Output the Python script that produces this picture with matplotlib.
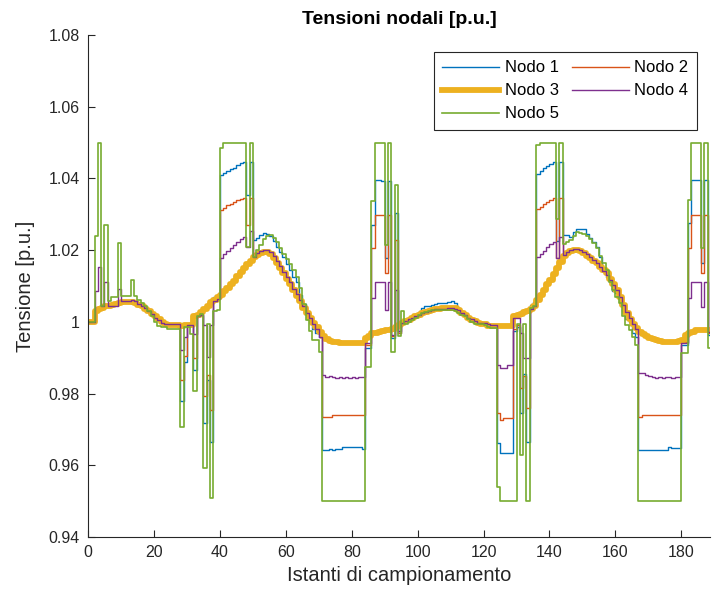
import numpy as np
import matplotlib
matplotlib.use("Agg")
import matplotlib.pyplot as plt
from matplotlib.ticker import FuncFormatter

plt.rcParams['font.family'] = ['Liberation Sans', 'DejaVu Sans']

# sampling instants
campioni = np.arange(190)

nodo1 = [
    1.0000, 1.0000, 1.0030, 1.0035, 1.0040, 1.0043, 1.0045, 1.0048, 1.0050, 1.0052,
    1.0054, 1.0055, 1.0055, 1.0054, 1.0052, 1.0048, 1.0043, 1.0037, 1.0030, 1.0022,
    1.0015, 1.0008, 1.0000, 0.9995, 0.9992, 0.9992, 0.9990, 0.9990, 0.9780, 0.9888,
    0.9992, 0.9992, 0.9866, 1.0018, 1.0020, 0.9717, 0.9838, 0.9666, 1.0068, 1.0070,
    1.0410, 1.0415, 1.0420, 1.0425, 1.0430, 1.0437, 1.0443, 1.0445, 1.0355, 1.0445,
    1.0229, 1.0235, 1.0242, 1.0247, 1.0245, 1.0240, 1.0225, 1.0210, 1.0195, 1.0180,
    1.0160, 1.0145, 1.0125, 1.0110, 1.0075, 1.0050, 1.0025, 1.0005, 0.9980, 0.9970,
    0.9959, 0.9643, 0.9643, 0.9645, 0.9643, 0.9645, 0.9645, 0.9650, 0.9650, 0.9652,
    0.9650, 0.9650, 0.9652, 0.9645, 0.9927, 0.9927, 1.0270, 1.0396, 1.0396, 1.0393,
    1.0178, 1.0393, 0.9955, 1.0303, 0.9970, 1.0000, 1.0005, 1.0010, 1.0013, 1.0018,
    1.0028, 1.0038, 1.0043, 1.0045, 1.0048, 1.0050, 1.0052, 1.0052, 1.0053, 1.0055,
    1.0057, 1.0053, 1.0040, 1.0028, 1.0020, 1.0012, 1.0006, 1.0002, 0.9998, 0.9995,
    0.9993, 0.9990, 0.9990, 0.9990, 0.9662, 0.9634, 0.9634, 0.9634, 0.9634, 0.9975,
    0.9985, 0.9745, 0.9855, 0.9666, 1.0048, 1.0055, 1.0412, 1.0420, 1.0428, 1.0435,
    1.0440, 1.0447, 1.0225, 1.0447, 1.0243, 1.0243, 1.0238, 1.0250, 1.0259, 1.0260,
    1.0259, 1.0245, 1.0235, 1.0222, 1.0210, 1.0180, 1.0145, 1.0125, 1.0110, 1.0085,
    1.0080, 1.0065, 1.0030, 1.0008, 1.0000, 0.9970, 0.9958, 0.9643, 0.9643, 0.9643,
    0.9643, 0.9643, 0.9643, 0.9643, 0.9643, 0.9643, 0.9652, 0.9648, 0.9648, 0.9648,
    0.9936, 0.9936, 1.0275, 1.0396, 1.0396, 1.0396, 1.0164, 1.0396, 0.9964, 0.9964,
]

nodo2 = [
    1.0000, 1.0000, 1.0030, 1.0035, 1.0040, 1.0043, 1.0045, 1.0048, 1.0050, 1.0052,
    1.0054, 1.0055, 1.0055, 1.0054, 1.0052, 1.0048, 1.0043, 1.0037, 1.0030, 1.0022,
    1.0015, 1.0008, 1.0000, 0.9995, 0.9992, 0.9992, 0.9990, 0.9990, 0.9838, 0.9905,
    0.9990, 0.9990, 0.9900, 1.0018, 1.0025, 0.9792, 0.9852, 0.9755, 1.0060, 1.0065,
    1.0312, 1.0318, 1.0325, 1.0330, 1.0335, 1.0340, 1.0343, 1.0345, 1.0270, 1.0345,
    1.0180, 1.0187, 1.0193, 1.0196, 1.0195, 1.0188, 1.0178, 1.0165, 1.0150, 1.0135,
    1.0120, 1.0105, 1.0090, 1.0073, 1.0057, 1.0040, 1.0025, 1.0010, 0.9997, 0.9985,
    0.9972, 0.9734, 0.9734, 0.9734, 0.9740, 0.9740, 0.9740, 0.9740, 0.9740, 0.9740,
    0.9740, 0.9740, 0.9740, 0.9740, 0.9936, 0.9936, 1.0206, 1.0298, 1.0298, 1.0298,
    1.0136, 1.0298, 0.9960, 1.0229, 0.9970, 0.9997, 1.0002, 1.0006, 1.0010, 1.0015,
    1.0020, 1.0025, 1.0028, 1.0030, 1.0033, 1.0035, 1.0037, 1.0038, 1.0038, 1.0038,
    1.0038, 1.0038, 1.0033, 1.0025, 1.0018, 1.0012, 1.0006, 1.0002, 0.9998, 0.9995,
    0.9993, 0.9989, 0.9989, 0.9989, 0.9745, 0.9727, 0.9732, 0.9732, 0.9732, 0.9980,
    0.9990, 0.9815, 0.9850, 0.9759, 1.0035, 1.0045, 1.0315, 1.0320, 1.0328, 1.0335,
    1.0340, 1.0345, 1.0178, 1.0345, 1.0185, 1.0192, 1.0197, 1.0200, 1.0200, 1.0198,
    1.0192, 1.0185, 1.0177, 1.0170, 1.0163, 1.0153, 1.0145, 1.0135, 1.0120, 1.0105,
    1.0090, 1.0068, 1.0046, 1.0025, 1.0007, 0.9993, 0.9982, 0.9734, 0.9739, 0.9739,
    0.9739, 0.9739, 0.9739, 0.9739, 0.9739, 0.9739, 0.9739, 0.9739, 0.9739, 0.9739,
    0.9945, 0.9945, 1.0206, 1.0298, 1.0298, 1.0298, 1.0136, 1.0298, 0.9970, 0.9970,
]

nodo3 = [
    1.0000, 1.0000, 1.0030, 1.0035, 1.0040, 1.0043, 1.0045, 1.0048, 1.0050, 1.0052,
    1.0054, 1.0055, 1.0055, 1.0054, 1.0052, 1.0048, 1.0043, 1.0037, 1.0030, 1.0022,
    1.0015, 1.0008, 1.0000, 0.9995, 0.9992, 0.9992, 0.9990, 0.9990, 0.9989, 0.9990,
    0.9990, 0.9992, 1.0015, 1.0020, 1.0028, 1.0035, 1.0045, 1.0055, 1.0060, 1.0068,
    1.0075, 1.0085, 1.0095, 1.0105, 1.0115, 1.0127, 1.0138, 1.0150, 1.0160, 1.0170,
    1.0180, 1.0187, 1.0193, 1.0196, 1.0195, 1.0188, 1.0178, 1.0165, 1.0150, 1.0135,
    1.0120, 1.0105, 1.0090, 1.0073, 1.0057, 1.0040, 1.0025, 1.0010, 0.9997, 0.9985,
    0.9972, 0.9960, 0.9952, 0.9947, 0.9944, 0.9943, 0.9942, 0.9941, 0.9941, 0.9941,
    0.9941, 0.9941, 0.9941, 0.9941, 0.9955, 0.9960, 0.9968, 0.9970, 0.9973, 0.9975,
    0.9977, 0.9978, 0.9980, 0.9985, 0.9992, 0.9997, 1.0002, 1.0006, 1.0010, 1.0015,
    1.0020, 1.0025, 1.0028, 1.0030, 1.0033, 1.0035, 1.0037, 1.0038, 1.0038, 1.0038,
    1.0038, 1.0038, 1.0033, 1.0025, 1.0018, 1.0012, 1.0006, 1.0002, 0.9998, 0.9995,
    0.9993, 0.9989, 0.9989, 0.9989, 0.9989, 0.9989, 0.9989, 0.9989, 0.9989, 1.0015,
    1.0018, 1.0022, 1.0027, 1.0030, 1.0035, 1.0045, 1.0060, 1.0075, 1.0090, 1.0105,
    1.0118, 1.0133, 1.0150, 1.0168, 1.0185, 1.0192, 1.0197, 1.0200, 1.0200, 1.0198,
    1.0192, 1.0185, 1.0177, 1.0170, 1.0163, 1.0153, 1.0145, 1.0135, 1.0120, 1.0105,
    1.0090, 1.0068, 1.0046, 1.0025, 1.0007, 0.9993, 0.9982, 0.9973, 0.9965, 0.9960,
    0.9955, 0.9952, 0.9950, 0.9948, 0.9945, 0.9945, 0.9945, 0.9945, 0.9945, 0.9947,
    0.9950, 0.9964, 0.9970, 0.9973, 0.9976, 0.9978, 0.9978, 0.9978, 0.9978, 0.9978,
]

nodo4 = [
    1.0000, 1.0000, 1.0085, 1.0154, 1.0043, 1.0110, 1.0043, 1.0043, 1.0043, 1.0091,
    1.0057, 1.0057, 1.0057, 1.0060, 1.0057, 1.0050, 1.0045, 1.0040, 1.0030, 1.0022,
    1.0012, 1.0005, 0.9998, 0.9995, 0.9993, 0.9993, 0.9993, 0.9993, 0.9922, 0.9959,
    0.9992, 0.9992, 0.9966, 1.0015, 1.0020, 0.9990, 0.9903, 0.9990, 1.0057, 1.0063,
    1.0178, 1.0190, 1.0198, 1.0206, 1.0214, 1.0222, 1.0230, 1.0238, 1.0210, 1.0252,
    1.0182, 1.0192, 1.0198, 1.0201, 1.0200, 1.0195, 1.0185, 1.0170, 1.0155, 1.0140,
    1.0125, 1.0110, 1.0093, 1.0077, 1.0060, 1.0043, 1.0025, 1.0010, 0.9995, 0.9980,
    0.9958, 0.9852, 0.9847, 0.9848, 0.9845, 0.9843, 0.9845, 0.9843, 0.9846, 0.9843,
    0.9846, 0.9843, 0.9845, 0.9845, 0.9941, 0.9941, 1.0066, 1.0112, 1.0112, 1.0112,
    1.0033, 1.0112, 0.9964, 1.0089, 0.9975, 0.9998, 1.0003, 1.0007, 1.0010, 1.0015,
    1.0020, 1.0024, 1.0028, 1.0030, 1.0033, 1.0035, 1.0036, 1.0037, 1.0037, 1.0038,
    1.0038, 1.0037, 1.0032, 1.0025, 1.0018, 1.0012, 1.0008, 1.0003, 0.9998, 0.9998,
    0.9996, 0.9994, 0.9992, 0.9992, 0.9880, 0.9871, 0.9871, 0.9880, 0.9880, 1.0010,
    1.0010, 0.9968, 0.9900, 0.9900, 1.0035, 1.0045, 1.0182, 1.0190, 1.0198, 1.0208,
    1.0216, 1.0224, 1.0178, 1.0238, 1.0187, 1.0195, 1.0200, 1.0203, 1.0203, 1.0200,
    1.0195, 1.0188, 1.0180, 1.0172, 1.0163, 1.0153, 1.0143, 1.0132, 1.0118, 1.0103,
    1.0088, 1.0068, 1.0047, 1.0027, 1.0010, 0.9993, 0.9980, 0.9857, 0.9857, 0.9852,
    0.9848, 0.9845, 0.9843, 0.9845, 0.9843, 0.9845, 0.9845, 0.9843, 0.9845, 0.9845,
    0.9941, 0.9941, 1.0066, 1.0112, 1.0112, 1.0112, 1.0042, 1.0112, 0.9973, 0.9973,
]

nodo5 = [
    1.0000, 1.0000, 1.0240, 1.0500, 1.0045, 1.0270, 1.0057, 1.0068, 1.0068, 1.0220,
    1.0073, 1.0073, 1.0073, 1.0118, 1.0073, 1.0061, 1.0052, 1.0043, 1.0030, 1.0015,
    1.0000, 0.9988, 0.9985, 0.9985, 0.9980, 0.9980, 0.9980, 0.9980, 0.9708, 0.9985,
    0.9985, 0.9966, 0.9806, 1.0015, 1.0022, 0.9592, 0.9995, 0.9508, 1.0030, 1.0032,
    1.0484, 1.0500, 1.0500, 1.0500, 1.0500, 1.0500, 1.0500, 1.0500, 1.0210, 1.0500,
    1.0182, 1.0200, 1.0215, 1.0230, 1.0240, 1.0242, 1.0235, 1.0222, 1.0205, 1.0190,
    1.0175, 1.0160, 1.0145, 1.0125, 1.0095, 1.0050, 1.0005, 0.9975, 0.9950, 0.9950,
    0.9917, 0.9500, 0.9500, 0.9500, 0.9500, 0.9500, 0.9500, 0.9500, 0.9500, 0.9500,
    0.9500, 0.9500, 0.9500, 0.9500, 0.9875, 0.9875, 1.0336, 1.0500, 1.0500, 1.0500,
    1.0215, 1.0500, 0.9917, 1.0382, 0.9960, 1.0029, 0.9995, 1.0000, 1.0005, 1.0010,
    1.0018, 1.0025, 1.0028, 1.0030, 1.0032, 1.0033, 1.0033, 1.0033, 1.0033, 1.0033,
    1.0033, 1.0030, 1.0025, 1.0020, 1.0015, 1.0008, 1.0000, 0.9995, 0.9993, 0.9993,
    0.9992, 0.9985, 0.9982, 0.9982, 0.9540, 0.9500, 0.9500, 0.9500, 0.9500, 0.9500,
    0.9995, 0.9629, 0.9995, 0.9500, 1.0040, 1.0045, 1.0494, 1.0500, 1.0500, 1.0500,
    1.0500, 1.0500, 1.0286, 1.0500, 1.0216, 1.0222, 1.0228, 1.0240, 1.0250, 1.0248,
    1.0245, 1.0240, 1.0232, 1.0220, 1.0205, 1.0185, 1.0164, 1.0145, 1.0110, 1.0089,
    1.0070, 1.0053, 1.0015, 0.9990, 0.9978, 0.9959, 0.9935, 0.9500, 0.9500, 0.9500,
    0.9500, 0.9500, 0.9500, 0.9500, 0.9500, 0.9500, 0.9500, 0.9500, 0.9500, 0.9500,
    0.9913, 0.9913, 1.0340, 1.0500, 1.0500, 1.0500, 1.0206, 1.0500, 0.9927, 0.9927,
]

etichette = ['Nodo 1', 'Nodo 2', 'Nodo 3', 'Nodo 4', 'Nodo 5']
colori = ['#0072BD', '#D95319', '#EDB120', '#7E2F8E', '#77AC30']
spessori = [1.0, 1.0, 4.2, 1.0, 1.2]

fig = plt.figure(figsize=(7.12, 6.0), dpi=100)
ax = fig.add_axes([88 / 712, 63 / 600, 622 / 712, 502 / 600])

linee = []
for serie, nome, col, lw in zip([nodo1, nodo2, nodo3, nodo4, nodo5],
                                etichette, colori, spessori):
    l, = ax.step(campioni, serie, where='post', color=col, lw=lw, label=nome)
    linee.append(l)

ax.set_xlim(0, 188.7)
ax.set_ylim(0.94, 1.08)
ax.set_xticks(np.arange(0, 181, 20))
ax.set_yticks(np.arange(0.94, 1.0801, 0.02))
ax.yaxis.set_major_formatter(FuncFormatter(lambda v, p: f'{round(v, 4):g}'))

grigio = '#262626'
for side in ['top', 'right']:
    ax.spines[side].set_visible(False)
for side in ['left', 'bottom']:
    ax.spines[side].set_color(grigio)
    ax.spines[side].set_linewidth(0.8)
ax.tick_params(direction='in', length=5, width=0.8, colors=grigio,
               labelsize=11.5, pad=6)

ax.set_xlabel('Istanti di campionamento', fontsize=14.5, color=grigio, labelpad=4)
ax.set_ylabel('Tensione [p.u.]', fontsize=14.5, color=grigio, labelpad=10)
ax.set_title('Tensioni nodali [p.u.]', fontsize=14, fontweight='bold',
             color='black', pad=8)

# legend laid out row by row: Nodo 1 | Nodo 2 / Nodo 3 | Nodo 4 / Nodo 5
ordine = [0, 2, 4, 1, 3]
leg = ax.legend([linee[i] for i in ordine], [etichette[i] for i in ordine],
                ncol=2, loc='upper right', bbox_to_anchor=(0.979, 0.966),
                borderaxespad=0, fontsize=12, frameon=True, fancybox=False,
                framealpha=1, edgecolor=grigio, handlelength=3.4,
                handletextpad=0.35, columnspacing=0.8, labelspacing=0.48,
                borderpad=0.5)
leg.get_frame().set_linewidth(0.8)

fig.savefig('out.png', dpi=100)
